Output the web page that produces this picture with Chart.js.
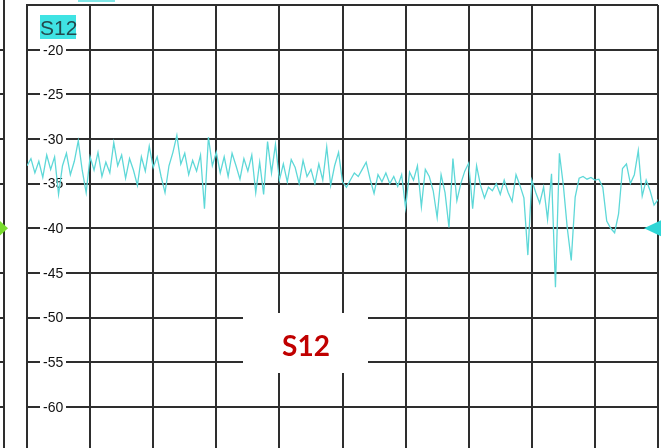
<!DOCTYPE html>
<html>
<head>
<meta charset="utf-8">
<script src="https://cdn.jsdelivr.net/npm/chart.js@4.4.1/dist/chart.umd.min.js"></script>
<style>
  html, body { margin: 0; padding: 0; background: #fff; }
  #wrap { width: 661px; height: 448px; }
</style>
</head>
<body>
<div id="wrap"><canvas id="chart" width="661" height="448"></canvas></div>
<script>
// S12 trace, dB, one value per sweep point (161 points, 16 per division)
const traceName = 'S12';
const yTicks = [-20, -25, -30, -35, -40, -45, -50, -55, -60];
const xDivisions = [0, 16, 32, 48, 64, 80, 96, 112, 128, 144, 160];
const refLevel = -40;
const s12 = [
  -33.0, -32.2, -33.8, -32.5, -34.3, -31.8, -33.4, -32.0, -36.2, -33.0, -31.6, -34.0, -32.5, -30.2, -33.5, -36.0,
  -32.0, -33.5, -31.5, -34.2, -32.6, -33.8, -30.4, -33.0, -31.8, -34.4, -32.2, -33.5, -35.2, -32.0, -33.6, -30.8,
  -33.2, -32.0, -34.2, -36.0, -33.0, -31.5, -29.6, -32.8, -31.6, -34.0, -32.4, -33.6, -31.8, -37.8, -29.8, -33.0,
  -31.5, -33.8, -32.0, -34.2, -31.6, -33.0, -34.5, -32.2, -33.6, -31.8, -36.0, -32.6, -36.2, -30.3, -33.8, -30.6,
  -34.6, -32.8, -34.8, -32.3, -33.2, -35.0, -32.4, -34.2, -33.4, -35.0, -32.8, -34.6, -30.9, -35.2, -33.0, -31.5,
  -34.8, -35.4, -34.6, -33.8, -34.2, -33.4, -32.6, -34.5, -36.1, -34.0, -34.8, -33.8, -35.0, -34.2, -35.3, -34.0,
  -37.7, -33.7, -34.6, -33.0, -37.6, -33.4, -34.2, -35.8, -38.8, -34.0, -36.0, -39.9, -32.2, -36.9, -35.0, -33.6,
  -32.7, -37.8, -33.0, -35.2, -36.6, -35.4, -35.8, -35.0, -36.2, -34.6, -36.0, -37.0, -34.0, -35.2, -36.6, -43.0,
  -34.6, -36.0, -37.2, -35.4, -39.0, -33.9, -46.6, -31.6, -35.2, -40.0, -43.6, -36.5, -34.4, -34.2, -34.5, -34.3,
  -34.6, -34.5, -35.4, -39.2, -40.0, -40.5, -38.4, -33.3, -32.8, -35.0, -34.0, -31.3, -36.4, -34.6, -35.8, -37.4,
  -36.8
];

const gridColor = '#2e2e2e';
const traceColor = '#5ed8d8';

const overlay = {
  id: 'overlay',
  beforeDatasetsDraw(chart) {
    const { ctx, scales: { y } } = chart;
    ctx.save();
    ctx.font = '14px "Liberation Sans", Arial, sans-serif';
    ctx.textBaseline = 'middle';
    yTicks.forEach((v) => {
      const py = y.getPixelForValue(v);
      ctx.fillStyle = '#fff';
      ctx.fillRect(40, py - 8, 26, 16);
      ctx.fillStyle = '#111';
      ctx.fillText(String(v), 43, py + 1);
    });
    // trace name tag
    ctx.fillStyle = '#3fe3e3';
    ctx.fillRect(40, 15, 36, 24);
    ctx.fillStyle = '#24484c';
    ctx.font = '21px "Liberation Sans", Arial, sans-serif';
    ctx.textBaseline = 'alphabetic';
    ctx.fillText(traceName, 40, 35);
    ctx.restore();
  },
  afterDatasetsDraw(chart) {
    const { ctx, scales: { y } } = chart;
    const ry = y.getPixelForValue(refLevel);
    ctx.save();
    // left window edge with its ticks
    ctx.strokeStyle = gridColor;
    ctx.lineWidth = 2;
    ctx.beginPath();
    ctx.moveTo(4, 0);
    ctx.lineTo(4, 448);
    yTicks.forEach((v) => {
      const py = Math.round(y.getPixelForValue(v));
      ctx.moveTo(0, py);
      ctx.lineTo(4, py);
    });
    ctx.stroke();
    // reference markers
    ctx.fillStyle = '#79dc2e';
    ctx.beginPath();
    ctx.moveTo(-2, ry - 9);
    ctx.lineTo(8, ry);
    ctx.lineTo(-2, ry + 9);
    ctx.fill();
    ctx.fillStyle = '#2fd6d6';
    ctx.beginPath();
    ctx.moveTo(644, ry);
    ctx.lineTo(661, ry - 8);
    ctx.lineTo(661, ry + 8);
    ctx.fill();
    ctx.fillStyle = '#7fe6e6';
    ctx.fillRect(78, 0, 37, 2);
    // pasted caption
    ctx.fillStyle = '#fff';
    ctx.fillRect(243, 313, 125, 60);
    ctx.fillStyle = '#c00000';
    ctx.font = 'bold 28px Lato, "Open Sans", sans-serif';
    ctx.textAlign = 'center';
    ctx.textBaseline = 'middle';
    ctx.fillText(traceName, 306, 347);
    ctx.restore();
  }
};

new Chart(document.getElementById('chart'), {
  type: 'line',
  data: {
    datasets: [{
      label: traceName,
      data: s12.map((v, i) => ({ x: i, y: v })),
      borderColor: traceColor,
      borderWidth: 1.3,
      pointRadius: 0,
      tension: 0,
    }],
  },
  options: {
    responsive: false,
    animation: false,
    layout: { padding: { left: 27, right: 3, top: 5, bottom: 0 } },
    plugins: { legend: { display: false }, tooltip: { enabled: false } },
    scales: {
      x: {
        type: 'linear',
        min: 0,
        max: 160,
        afterBuildTicks: (s) => { s.ticks = xDivisions.map((v) => ({ value: v })); },
        ticks: { display: false },
        grid: { color: gridColor, lineWidth: 2, drawTicks: false },
        border: { display: false },
      },
      y: {
        min: -64.6,
        max: -15,
        afterBuildTicks: (s) => { s.ticks = [-15, ...yTicks].map((v) => ({ value: v })); },
        ticks: { display: false },
        grid: { color: gridColor, lineWidth: 2, drawTicks: false },
        border: { color: gridColor, width: 2 },
      },
    },
  },
  plugins: [overlay],
});
</script>
</body>
</html>
